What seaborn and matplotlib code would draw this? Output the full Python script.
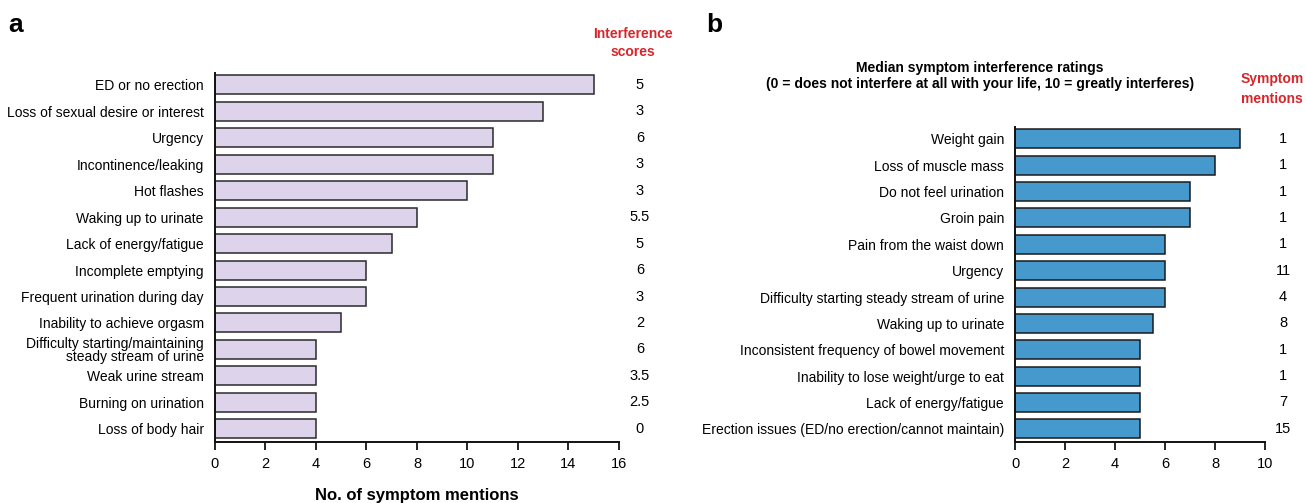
import matplotlib
matplotlib.use("Agg")
import matplotlib.pyplot as plt
import seaborn as sns
import pandas as pd

# Panel a: symptom mentions and interference scores
symptoms_a = [
    "ED or no erection",
    "Loss of sexual desire or interest",
    "Urgency",
    "Incontinence/leaking",
    "Hot flashes",
    "Waking up to urinate",
    "Lack of energy/fatigue",
    "Incomplete emptying",
    "Frequent urination during day",
    "Inability to achieve orgasm",
    "Difficulty starting/maintaining\nsteady stream of urine",
    "Weak urine stream",
    "Burning on urination",
    "Loss of body hair",
]
mentions_a = [15, 13, 11, 11, 10, 8, 7, 6, 6, 5, 4, 4, 4, 4]
scores_a = ["5", "3", "6", "3", "3", "5.5", "5", "6", "3", "2", "6", "3.5", "2.5", "0"]

# Panel b: median interference ratings and symptom mentions
symptoms_b = [
    "Weight gain",
    "Loss of muscle mass",
    "Do not feel urination",
    "Groin pain",
    "Pain from the waist down",
    "Urgency",
    "Difficulty starting steady stream of urine",
    "Waking up to urinate",
    "Inconsistent frequency of bowel movement",
    "Inability to lose weight/urge to eat",
    "Lack of energy/fatigue",
    "Erection issues (ED/no erection/cannot maintain)",
]
ratings_b = [9, 8, 7, 7, 6, 6, 6, 5.5, 5, 5, 5, 5]
mentions_b = ["1", "1", "1", "1", "1", "11", "4", "8", "1", "1", "7", "15"]

RED = "#d7262b"

sns.set_theme(style="white")
plt.rcParams["font.family"] = ["Liberation Sans", "DejaVu Sans"]
plt.rcParams["font.size"] = 10
plt.rcParams["text.color"] = "black"
plt.rcParams["axes.labelcolor"] = "black"
plt.rcParams["xtick.color"] = "black"
plt.rcParams["ytick.color"] = "black"

fig = plt.figure(figsize=(13.06, 5.03), dpi=100)
ax_a = fig.add_axes([0.1646, 0.1213, 0.3093, 0.7336])
ax_b = fig.add_axes([0.7772, 0.1213, 0.1914, 0.6262])


def style_axis(ax, xmax, n):
    sns.despine(ax=ax)
    ax.set_xlim(0, xmax)
    ax.set_ylim(n - 0.5, -0.45)
    for side in ["left", "bottom"]:
        ax.spines[side].set_linewidth(1.4)
        ax.spines[side].set_color("#111111")
    ax.tick_params(axis="x", direction="out", length=6, width=1.2, colors="black",
                   labelsize=10.5, pad=5, bottom=True)
    ax.tick_params(axis="y", length=0, labelsize=10, pad=8, colors="black")
    ax.set_ylabel("")
    for lab in ax.get_yticklabels():
        lab.set_linespacing(0.9)


df_a = pd.DataFrame({"symptom": symptoms_a, "mentions": mentions_a})
sns.barplot(data=df_a, x="mentions", y="symptom", order=symptoms_a, orient="h",
            color="#ddd3eb", saturation=1, edgecolor="#2a2a2a", linewidth=1.1,
            width=0.72, ax=ax_a)
style_axis(ax_a, 16, len(symptoms_a))
ax_a.set_xticks(range(0, 17, 2))
ax_a.set_xlabel("No. of symptom mentions", fontweight="bold", labelpad=12)
for i, s in enumerate(scores_a):
    ax_a.text(16.83, i, s, ha="center", va="center", fontsize=10.5, clip_on=False)

df_b = pd.DataFrame({"symptom": symptoms_b, "rating": ratings_b})
sns.barplot(data=df_b, x="rating", y="symptom", order=symptoms_b, orient="h",
            color="#4599cd", saturation=1, edgecolor="#1a1a1a", linewidth=1.1,
            width=0.72, ax=ax_b)
style_axis(ax_b, 10, len(symptoms_b))
ax_b.set_xticks(range(0, 11, 2))
ax_b.set_xlabel("")
for i, s in enumerate(mentions_b):
    ax_b.text(10.72, i, s, ha="center", va="center", fontsize=10.5, clip_on=False)

# headers and panel letters
fig.text(633 / 1306, 1 - 43 / 503, "Interference\nscores", color=RED, fontweight="bold",
         ha="center", va="center", fontsize=10, linespacing=1.35)
fig.text(1272 / 1306, 1 - 89 / 503, "Symptom\nmentions", color=RED, fontweight="bold",
         ha="center", va="center", fontsize=10, linespacing=1.5)
fig.text(980 / 1306, 1 - 76 / 503,
         "Median symptom interference ratings\n(0 = does not interfere at all with your life, 10 = greatly interferes)",
         fontweight="bold", ha="center", va="center", fontsize=10, linespacing=1.1)
fig.text(8 / 1306, 1 - 25 / 503, "a", fontweight="bold", fontsize=19, va="center")
fig.text(706 / 1306, 1 - 25 / 503, "b", fontweight="bold", fontsize=19, va="center")

fig.savefig("out.png", dpi=100)
